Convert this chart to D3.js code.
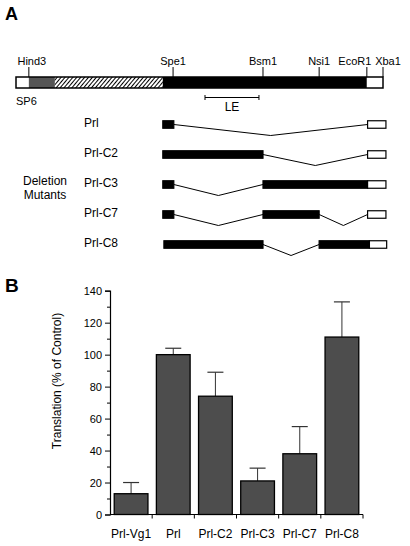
<!DOCTYPE html>
<html>
<head>
<meta charset="utf-8">
<script src="https://cdn.jsdelivr.net/npm/d3@7"></script>
<style>
  html, body { margin: 0; padding: 0; background: #fff; }
  svg { display: block; font-family: "Liberation Sans", Arial, Helvetica, sans-serif; }
</style>
</head>
<body>
<svg id="chart" width="410" height="546"></svg>
<script>
// ---------- Panel A data (map units 0-100 along the construct) ----------
const siteNames = ["Hind3", "Spe1", "Bsm1", "Nsi1", "EcoR1", "Xba1"];
const sitePos   = [3.5, 42.8, 67.3, 82.6, 95.6, 100];

const mapSegStart = [0, 3.5, 10.6, 40.0, 95.6];
const mapSegEnd   = [3.5, 10.6, 40.0, 95.6, 100];
const mapSegType  = ["white", "grey", "hatch", "black", "white"];

const leStart = 51.5, leEnd = 66.2;

const mutantNames = ["Prl", "Prl-C2", "Prl-C3", "Prl-C7", "Prl-C8"];
const mutantSegments = [
  [[40, 43, "black"], [95.8, 100.8, "white"]],
  [[40, 67.3, "black"], [95.8, 100.8, "white"]],
  [[40, 43, "black"], [67.3, 95.8, "black"], [95.8, 100.8, "white"]],
  [[40, 43, "black"], [67.3, 82.6, "black"], [95.8, 100.8, "white"]],
  [[40.3, 67.3, "black"], [82.6, 96.3, "black"], [96.3, 101, "white"]]
];

// ---------- Panel B data ----------
const barCategories = ["Prl-Vg1", "Prl", "Prl-C2", "Prl-C3", "Prl-C7", "Prl-C8"];
const barValues     = [13, 100, 74, 21, 38, 111];
const errorValues   = [7, 4, 15, 8, 17, 22];
const yTickValues   = [0, 20, 40, 60, 80, 100, 120, 140];
const yMinorValues  = [10, 30, 50, 70, 90, 110, 130];

const svg = d3.select("#chart");
const fillOf = t => t === "black" ? "#000" : t === "grey" ? "#555" : t === "hatch" ? "url(#hatch)" : "#fff";

// hatch pattern
const defs = svg.append("defs");
const pat = defs.append("pattern").attr("id", "hatch")
  .attr("patternUnits", "userSpaceOnUse").attr("width", 3).attr("height", 3)
  .attr("patternTransform", "rotate(40)");
pat.append("rect").attr("width", 3).attr("height", 3).attr("fill", "#fff");
pat.append("line").attr("x1", 0.5).attr("y1", 0).attr("x2", 0.5).attr("y2", 3)
  .attr("stroke", "#000").attr("stroke-width", 1);

// ---------- Panel A ----------
svg.append("text").attr("x", 5).attr("y", 20).attr("font-size", 18).attr("font-weight", "bold").text("A");

const xMap = d3.scaleLinear().domain([0, 100]).range([16, 383]);
const mapTop = 77, mapH = 11;

const mapG = svg.append("g");
mapG.selectAll("rect.seg").data(mapSegStart).join("rect").attr("class", "seg")
  .attr("x", (d, i) => xMap(d)).attr("y", mapTop)
  .attr("width", (d, i) => xMap(mapSegEnd[i]) - xMap(d)).attr("height", mapH)
  .attr("fill", (d, i) => fillOf(mapSegType[i]));
mapG.append("rect").attr("x", xMap(0)).attr("y", mapTop)
  .attr("width", xMap(100) - xMap(0)).attr("height", mapH)
  .attr("fill", "none").attr("stroke", "#000").attr("stroke-width", 1.5);

mapG.selectAll("line.site").data(sitePos).join("line").attr("class", "site")
  .attr("x1", d => xMap(d)).attr("x2", d => xMap(d))
  .attr("y1", 67).attr("y2", mapTop).attr("stroke", "#000").attr("stroke-width", 1);
mapG.selectAll("text.site").data(siteNames).join("text").attr("class", "site")
  .attr("x", (d, i) => xMap(sitePos[i]) + (d === "EcoR1" ? -12 : d === "Xba1" ? 5 : d === "Hind3" ? 3 : 0))
  .attr("y", 64.5).attr("font-size", 11).attr("text-anchor", "middle").text(d => d);

svg.append("text").attr("x", 16).attr("y", 105).attr("font-size", 11).text("SP6");

// LE scale bar
const leY = 97.5;
svg.append("line").attr("x1", xMap(leStart)).attr("x2", xMap(leEnd)).attr("y1", leY).attr("y2", leY).attr("stroke", "#000");
[leStart, leEnd].forEach(v => svg.append("line").attr("x1", xMap(v)).attr("x2", xMap(v))
  .attr("y1", leY - 2.5).attr("y2", leY + 2.5).attr("stroke", "#000"));
svg.append("text").attr("x", (xMap(leStart) + xMap(leEnd)) / 2).attr("y", 111)
  .attr("font-size", 12).attr("text-anchor", "middle").text("LE");

// Deletion mutants
const yRow = d3.scalePoint().domain(mutantNames).range([124.5, 244.5]);
const boxH = 7.5, dip = 11;

svg.append("text").attr("x", 45).attr("y", 185).attr("font-size", 12).attr("text-anchor", "middle").text("Deletion");
svg.append("text").attr("x", 45).attr("y", 199).attr("font-size", 12).attr("text-anchor", "middle").text("Mutants");

mutantNames.forEach((name, r) => {
  const cy = yRow(name);
  const g = svg.append("g");
  g.append("text").attr("x", 84).attr("y", cy + 2).attr("font-size", 12).text(name);
  const segs = mutantSegments[r];
  for (let k = 0; k < segs.length - 1; k++) {
    const a = segs[k][1], b = segs[k + 1][0];
    if (b - a > 0.5) {
      const pts = [[xMap(a), cy], [(xMap(a) + xMap(b)) / 2, cy + dip], [xMap(b), cy]];
      g.append("path").attr("d", d3.line()(pts)).attr("fill", "none").attr("stroke", "#000").attr("stroke-width", 1);
    }
  }
  g.selectAll("rect").data(segs).join("rect")
    .attr("x", d => xMap(d[0])).attr("y", cy - boxH / 2)
    .attr("width", d => xMap(d[1]) - xMap(d[0])).attr("height", boxH)
    .attr("fill", d => fillOf(d[2])).attr("stroke", "#000").attr("stroke-width", 1.2);
});

// ---------- Panel B ----------
svg.append("text").attr("x", 5).attr("y", 292).attr("font-size", 19).attr("font-weight", "bold").text("B");

const x = d3.scaleBand().domain(barCategories).range([110, 363]).paddingInner(0.2).paddingOuter(0.1);
const y = d3.scaleLinear().domain([0, 140]).range([514.5, 290.7]);

const chartG = svg.append("g");

chartG.selectAll("line.err").data(barValues).join("line").attr("class", "err")
  .attr("x1", (d, i) => x(barCategories[i]) + x.bandwidth() / 2)
  .attr("x2", (d, i) => x(barCategories[i]) + x.bandwidth() / 2)
  .attr("y1", d => y(d)).attr("y2", (d, i) => y(d + errorValues[i]))
  .attr("stroke", "#333").attr("stroke-width", 1);
chartG.selectAll("line.cap").data(barValues).join("line").attr("class", "cap")
  .attr("x1", (d, i) => x(barCategories[i]) + x.bandwidth() / 2 - 8)
  .attr("x2", (d, i) => x(barCategories[i]) + x.bandwidth() / 2 + 8)
  .attr("y1", (d, i) => y(d + errorValues[i])).attr("y2", (d, i) => y(d + errorValues[i]))
  .attr("stroke", "#333").attr("stroke-width", 1.2);

chartG.selectAll("rect.bar").data(barValues).join("rect").attr("class", "bar")
  .attr("x", (d, i) => x(barCategories[i])).attr("width", x.bandwidth())
  .attr("y", d => y(d)).attr("height", d => y(0) - y(d))
  .attr("fill", "#4d4d4d").attr("stroke", "#000").attr("stroke-width", 1.3);

const yAxis = chartG.append("g").attr("transform", "translate(110,0)")
  .call(d3.axisLeft(y).tickValues(yTickValues).tickSize(5).tickPadding(3));
yAxis.select(".domain").attr("stroke", "#000").attr("stroke-width", 1.2);
yAxis.selectAll("text").attr("font-size", 11).attr("font-family", "Liberation Sans, Arial, sans-serif").attr("fill", "#000");
chartG.append("g").attr("transform", "translate(110,0)")
  .call(d3.axisLeft(y).tickValues(yMinorValues).tickSize(3).tickFormat(""))
  .select(".domain").remove();

const xAxisG = chartG.append("g").attr("transform", `translate(0,${y(0)})`);
xAxisG.append("line").attr("x1", 110).attr("x2", 363).attr("stroke", "#000").attr("stroke-width", 1.2);
const boundaries = barCategories.map((c, i) => x(c) - x.step() * x.paddingInner() / 2 + x.step());
xAxisG.selectAll("line.tick").data(boundaries).join("line").attr("class", "tick")
  .attr("x1", d => d).attr("x2", d => d).attr("y1", 0).attr("y2", 4).attr("stroke", "#000");
xAxisG.selectAll("text").data(barCategories).join("text")
  .attr("x", d => x(d) + x.bandwidth() / 2).attr("y", 23)
  .attr("text-anchor", "middle").attr("font-size", 12).text(d => d);

svg.append("text").attr("transform", "translate(61,381) rotate(-90)")
  .attr("text-anchor", "middle").attr("font-size", 12).text("Translation (% of Control)");
</script>
</body>
</html>
